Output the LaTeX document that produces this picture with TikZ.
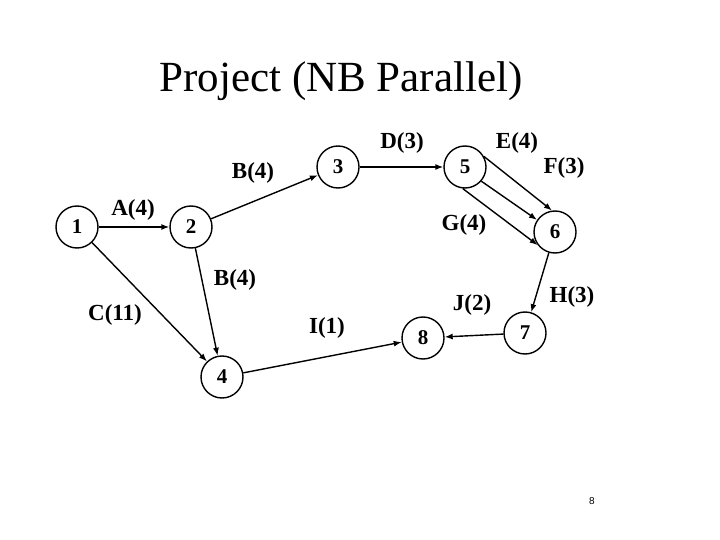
\documentclass[tikz,border=0pt]{standalone}
\usepackage{fontspec}
\setmainfont{Liberation Serif}
\newfontfamily\pagefont{Liberation Sans}
\usetikzlibrary{arrows.meta}

\begin{document}
\begin{tikzpicture}[x=1pt,y=-1pt,
    event/.style={circle,draw,line width=1.4pt,minimum size=42pt,inner sep=0pt,
        font=\fontsize{21}{25}\selectfont\bfseries},
    act/.style={line width=1.4pt,-{Latex[length=8pt,width=6pt]}},
    actlabel/.style={font=\fontsize{23}{27}\selectfont\bfseries}]

    \useasboundingbox (0,0) rectangle (720,540);

    % Title
    \node[font=\fontsize{43}{50}\selectfont,anchor=base] (title) at (341,92) {Project (NB Parallel)};

    % Events
    \node[event] (n1) at (77,227) {1};
    \node[event] (n2) at (191,227) {2};
    \node[event] (n3) at (338,167) {3};
    \node[event] (n4) at (222,377) {4};
    \node[event] (n5) at (465,167) {5};
    \node[event] (n6) at (555,232) {6};
    \node[event] (n7) at (525,333) {7};
    \node[event] (n8) at (423,338) {8};

    % Activities
    \draw[act] (n1) -- (n2);
    \draw[act] (n2) -- (n3);
    \draw[act] (n3) -- (n5);
    \draw[act] (n5.29) -- (n6.98);
    \draw[act] (n5.-41) -- (n6.146);
    \draw[act] (n5.-96) -- (n6.-143);
    \draw[act] (n6) -- (n7);
    \draw[act] (n7) -- (n8);
    \draw[act] (n4) -- (n8);
    \draw[act] (n1) -- (n4);
    \draw[act] (n2) -- (n4);

    % Labels
    \node[actlabel] (lA) at (133,210) {A(4)};
    \node[actlabel] (lB1) at (253,173) {B(4)};
    \node[actlabel] (lD) at (402,143) {D(3)};
    \node[actlabel] (lE) at (517,143) {E(4)};
    \node[actlabel] (lF) at (564,168) {F(3)};
    \node[actlabel] (lG) at (464,225) {G(4)};
    \node[actlabel] (lH) at (572,297) {H(3)};
    \node[actlabel] (lJ) at (472,305) {J(2)};
    \node[actlabel] (lI) at (327,328) {I(1)};
    \node[actlabel] (lC) at (115,315) {C(11)};
    \node[actlabel] (lB2) at (235,280) {B(4)};

    % Page number
    \node[font=\pagefont\fontsize{10}{12}\selectfont] (page) at (592,501) {8};

\end{tikzpicture}
\end{document}
